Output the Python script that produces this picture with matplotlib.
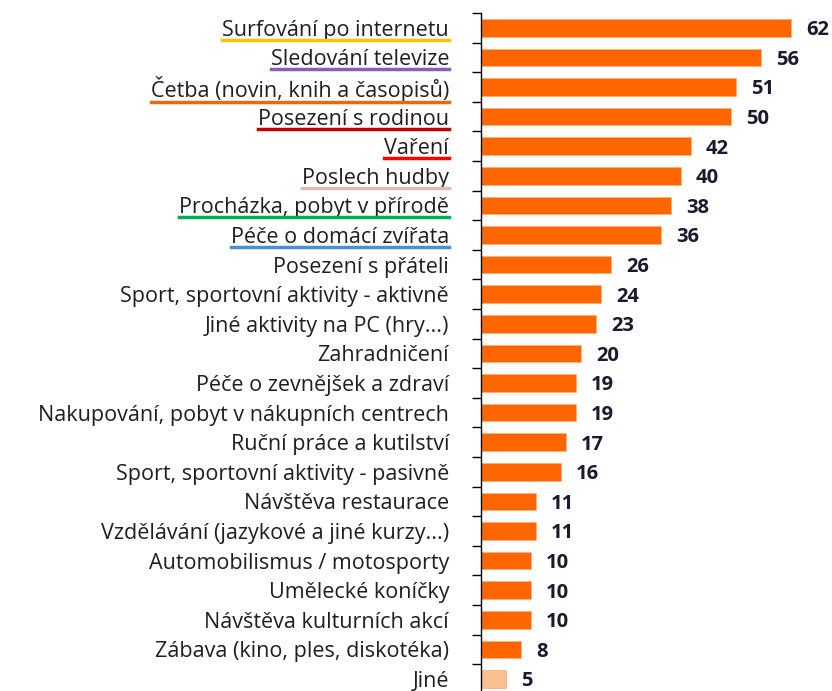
import matplotlib.pyplot as plt
from matplotlib.lines import Line2D

categories = ['Surfování po internetu', 'Sledování televize', 'Četba (novin, knih a časopisů)',
              'Posezení s rodinou', 'Vaření', 'Poslech hudby', 'Procházka, pobyt v přírodě',
              'Péče o domácí zvířata', 'Posezení s přáteli', 'Sport, sportovní aktivity - aktivně',
              'Jiné aktivity na PC (hry...)', 'Zahradničení', 'Péče o zevnějšek a zdraví',
              'Nakupování, pobyt v nákupních centrech', 'Ruční práce a kutilství',
              'Sport, sportovní aktivity - pasivně', 'Návštěva restaurace',
              'Vzdělávání (jazykové a jiné kurzy...)', 'Automobilismus / motosporty',
              'Umělecké koníčky', 'Návštěva kulturních akcí', 'Zábava (kino, ples, diskotéka)', 'Jiné']
values = [62, 56, 51, 50, 42, 40, 38, 36, 26, 24, 23, 20, 19, 19, 17, 16, 11, 11, 10, 10, 10, 8, 5]
underline_colors = ['#FFC000', '#8E5BB5', '#E46C0A', '#C00000', '#FF0000', '#E6B9B8', '#00B050', '#4A90D0']

plt.rcParams['font.family'] = ['Open Sans', 'DejaVu Sans']

fig = plt.figure(figsize=(8.32, 6.91), dpi=100)
ax = fig.add_axes([481 / 832, -2.8 / 691, 351 / 832, 680.8 / 691])

ypos = list(range(len(categories)))
colors = ['#FF6600'] * (len(values) - 1) + ['#FAC090']
ax.barh(ypos, values, height=0.6, color=colors, edgecolor='#FFB080', linewidth=0.6)
ax.set_xlim(0, 70.2)
ax.set_ylim(len(categories) - 0.5, -0.5)

for y, v in zip(ypos, values):
    ax.text(v + 3.0, y + 0.08, str(v), va='center', ha='left', fontsize=14.5,
            fontweight='bold', color='#1A1A2E')

ax.set_yticks(ypos)
ax.set_yticklabels(categories, fontsize=15.5, color='#1F1F1F')
ax.tick_params(axis='y', which='major', length=0, pad=23)
ax.set_yticks([i - 0.5 for i in range(len(categories) + 1)], minor=True)
ax.tick_params(axis='y', which='minor', length=6.5, width=1, color='black', direction='out')
ax.set_xticks([])
for s in ['top', 'right', 'bottom']:
    ax.spines[s].set_visible(False)
ax.spines['left'].set_linewidth(1)

# coloured underlines under the first labels
fig.canvas.draw()
renderer = fig.canvas.get_renderer()
labels = ax.get_yticklabels()
inv = fig.transFigure.inverted()
for lab, c in zip(labels, underline_colors):
    bb = lab.get_window_extent(renderer)
    (x0, y0), (x1, _) = inv.transform([(bb.x0, bb.y0 + 1), (bb.x1, bb.y0 + 1)])
    fig.add_artist(Line2D([x0, x1], [y0, y0], color=c, linewidth=2.5, transform=fig.transFigure))

fig.savefig('out.png', dpi=100)
